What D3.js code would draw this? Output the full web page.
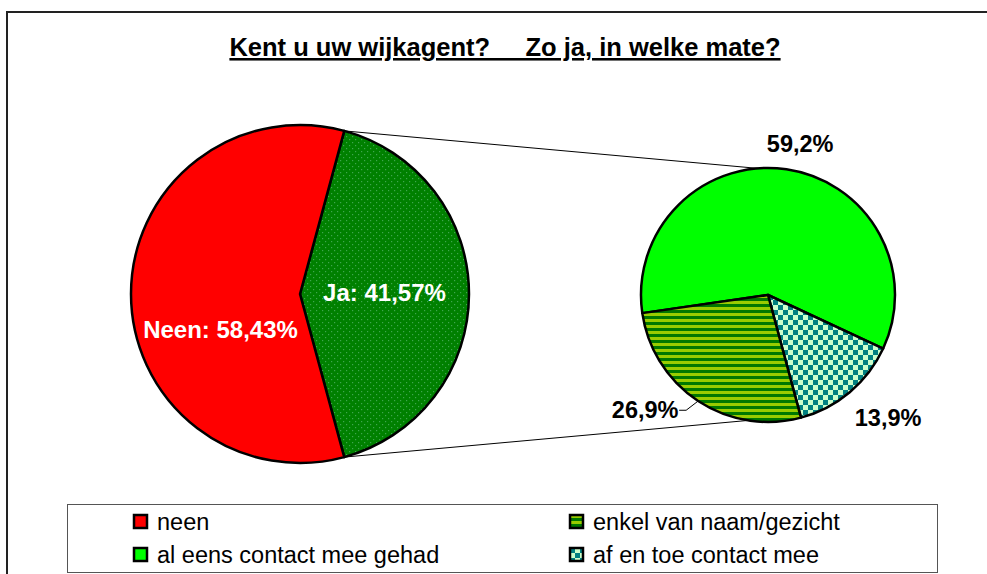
<!DOCTYPE html>
<html>
<head>
<meta charset="utf-8">
<script src="https://cdn.jsdelivr.net/npm/d3@7/dist/d3.min.js"></script>
<style>
  html, body { margin: 0; padding: 0; background: #fff; }
  svg { display: block; font-family: "Liberation Sans", Arial, sans-serif; }
</style>
</head>
<body>
<svg id="chart" width="987" height="574"></svg>
<script>
// ---- data ----
const titleText = "Kent u uw wijkagent?     Zo ja, in welke mate?";
const mainCategories = ["Ja", "Neen"];
const mainValues = [41.57, 58.43];
const mainLabels = ["Ja", "Neen"];
const detailCategories = ["al eens contact mee gehad", "af en toe contact mee", "enkel van naam/gezicht"];
const detailValues = [59.2, 13.9, 26.9];
const legendItems = ["neen", "al eens contact mee gehad", "enkel van naam/gezicht", "af en toe contact mee"];

// ---- layout / style ----
const svg = d3.select("#chart");
const W = 987, H = 574;
svg.append("rect").attr("width", W).attr("height", H).attr("fill", "#fff");

const defs = svg.append("defs");
// dotted dark green
const pd = defs.append("pattern").attr("id", "pDots").attr("patternUnits", "userSpaceOnUse")
  .attr("width", 6).attr("height", 6);
pd.append("rect").attr("width", 6).attr("height", 6).attr("fill", "#008000");
pd.append("rect").attr("x", 1).attr("y", 1).attr("width", 1.2).attr("height", 1.2).attr("fill", "#3fa64f");
pd.append("rect").attr("x", 4).attr("y", 4).attr("width", 1.2).attr("height", 1.2).attr("fill", "#3fa64f");
// horizontal stripes
const ps = defs.append("pattern").attr("id", "pStripes").attr("patternUnits", "userSpaceOnUse")
  .attr("width", 6).attr("height", 6);
ps.append("rect").attr("width", 6).attr("height", 6).attr("fill", "#99cc00");
ps.append("rect").attr("y", 3).attr("width", 6).attr("height", 3).attr("fill", "#007800");
// checkerboard
const pc = defs.append("pattern").attr("id", "pCheck").attr("patternUnits", "userSpaceOnUse")
  .attr("width", 10).attr("height", 10);
pc.append("rect").attr("width", 10).attr("height", 10).attr("fill", "#ccffcc");
pc.append("rect").attr("width", 5).attr("height", 5).attr("fill", "#008080");
pc.append("rect").attr("x", 5).attr("y", 5).attr("width", 5).attr("height", 5).attr("fill", "#008080");

const fills = {
  "Ja": "url(#pDots)",
  "Neen": "#ff0000",
  "neen": "#ff0000",
  "al eens contact mee gehad": "#00ff00",
  "af en toe contact mee": "url(#pCheck)",
  "enkel van naam/gezicht": "url(#pStripes)"
};

// outer frame
svg.append("path").attr("d", `M7,${H} V12 H${W}`).attr("fill", "none")
  .attr("stroke", "#222").attr("stroke-width", 2);

// title
svg.append("text").attr("x", 505).attr("y", 56).attr("text-anchor", "middle")
  .style("white-space", "pre").attr("font-size", 25.5).attr("font-weight", "bold")
  .attr("text-decoration", "underline").attr("fill", "#000").text(titleText);

const fmt = (v, d) => v.toFixed(d).replace(".", ",") + "%";
const rad = deg => deg * Math.PI / 180;

// ---- main pie ----
const c1 = { x: 300, y: 294, r: 169 };
const mainTotal = d3.sum(mainValues);
const jaSpan = 2 * Math.PI * mainValues[0] / mainTotal;
const mainStart = Math.PI / 2 - jaSpan / 2;
const pie1 = d3.pie().sort(null).startAngle(mainStart).endAngle(mainStart + 2 * Math.PI);
const arcs1 = pie1(mainValues).map((a, i) => ({ ...a, cat: mainCategories[i] }));
const arc1 = d3.arc().innerRadius(0).outerRadius(c1.r);
const g1 = svg.append("g").attr("transform", `translate(${c1.x},${c1.y})`);

// ---- detail pie ----
const c2 = { x: 768, y: 295, r: 127 };
const detailStart = rad(-98.2);
const pie2 = d3.pie().sort(null).startAngle(detailStart).endAngle(detailStart + 2 * Math.PI);
const arcs2 = pie2(detailValues).map((a, i) => ({ ...a, cat: detailCategories[i] }));
const arc2 = d3.arc().innerRadius(0).outerRadius(c2.r);
const g2 = svg.append("g").attr("transform", `translate(${c2.x},${c2.y})`);

// connector lines (from "Ja" slice edges to detail pie)
const polar = (c, ang, r) => [c.x + r * Math.sin(ang), c.y - r * Math.cos(ang)];
const ja = arcs1[0];
const conn = [
  [polar(c1, ja.startAngle, c1.r), polar(c2, rad(-4.5), c2.r)],
  [polar(c1, ja.endAngle, c1.r), polar(c2, rad(189), c2.r)]
];
svg.selectAll("line.conn").data(conn).join("line").attr("class", "conn")
  .attr("x1", d => d[0][0]).attr("y1", d => d[0][1])
  .attr("x2", d => d[1][0]).attr("y2", d => d[1][1])
  .attr("stroke", "#000").attr("stroke-width", 1);

g1.selectAll("path").data(arcs1).join("path")
  .attr("d", arc1).attr("fill", d => fills[d.cat])
  .attr("stroke", "#000").attr("stroke-width", 2.5).attr("stroke-linejoin", "round");

g2.selectAll("path").data(arcs2).join("path")
  .attr("d", arc2).attr("fill", d => fills[d.cat])
  .attr("stroke", "#000").attr("stroke-width", 2.5).attr("stroke-linejoin", "round");

// main labels (inside, white)
const labelArc1 = d3.arc().innerRadius(c1.r * 0.5).outerRadius(c1.r * 0.5);
const mainLabelShift = [[0, 7], [5, 44]];
g1.selectAll("text").data(arcs1).join("text")
  .attr("x", (d, i) => labelArc1.centroid(d)[0] + mainLabelShift[i][0])
  .attr("y", (d, i) => labelArc1.centroid(d)[1] + mainLabelShift[i][1])
  .attr("text-anchor", "middle").attr("font-size", 24).attr("font-weight", "bold")
  .attr("fill", "#fff").text((d, i) => mainLabels[i] + ": " + fmt(d.value, 2));

// detail labels (outside, black)
const labelArc2 = d3.arc().innerRadius(c2.r * 1.2).outerRadius(c2.r * 1.2);
const detailLabelShift = [[10, 0], [22, 6], [-39, -12]];
const detailLabelPos = arcs2.map((d, i) => {
  const p = labelArc2.centroid(d);
  return [p[0] + detailLabelShift[i][0], p[1] + detailLabelShift[i][1]];
});
g2.selectAll("text").data(arcs2).join("text")
  .attr("x", (d, i) => detailLabelPos[i][0])
  .attr("y", (d, i) => detailLabelPos[i][1] + 8)
  .attr("text-anchor", "middle").attr("font-size", 23.5).attr("font-weight", "bold")
  .attr("fill", "#000").text(d => fmt(d.value, 1));

// leader line for the striped slice label
const sIdx = 2;
const sMid = (arcs2[sIdx].startAngle + arcs2[sIdx].endAngle) / 2;
const edge = [c2.r * Math.sin(sMid), -c2.r * Math.cos(sMid)];
const lx = detailLabelPos[sIdx][0] + 34;
const ly = detailLabelPos[sIdx][1];
g2.append("polyline")
  .attr("points", `${lx},${ly} ${lx + 7},${ly} ${edge[0]},${edge[1]}`)
  .attr("fill", "none").attr("stroke", "#000").attr("stroke-width", 1);

// ---- legend ----
const lg = svg.append("g");
lg.append("rect").attr("x", 67.5).attr("y", 504.5).attr("width", 870).attr("height", 68)
  .attr("fill", "#fff").attr("stroke", "#555").attr("stroke-width", 1);
const colX = [134, 570];
const rowY = [515, 548];
const items = lg.selectAll("g.item").data(legendItems).join("g").attr("class", "item")
  .attr("transform", (d, i) => `translate(${colX[Math.floor(i / 2)]},${rowY[i % 2]})`);
items.append("rect").attr("width", 13).attr("height", 13)
  .attr("fill", d => fills[d]).attr("stroke", "#000").attr("stroke-width", 2.5);
items.append("text").attr("x", 23).attr("y", 14.5).attr("font-size", 23.5).attr("fill", "#000").text(d => d);
</script>
</body>
</html>
